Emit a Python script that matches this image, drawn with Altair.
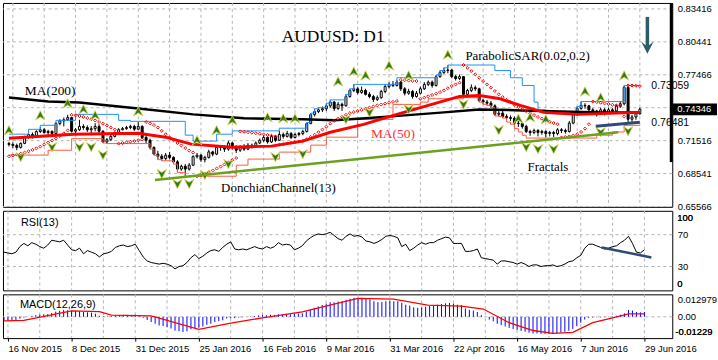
import altair as alt
import pandas as pd

# ---------------- data ----------------
bars = list(range(-1, 161))          # bar index, 0 = 16 Nov 2015, 160 = 29 Jun 2016
first_open = 0.7125

close = [
    0.7118, 0.7108, 0.7090, 0.7127, 0.7180, 0.7207, 0.7190, 0.7234, 0.7250, 0.7225,
    0.7234, 0.7216, 0.7306, 0.7330, 0.7340, 0.7360, 0.7237, 0.7250, 0.7280, 0.7270,
    0.7250, 0.7260, 0.7280, 0.7237, 0.7140, 0.7160, 0.7190, 0.7225, 0.7250, 0.7260,
    0.7270, 0.7280, 0.7255, 0.7280, 0.7180, 0.7155, 0.7090, 0.7030, 0.7010, 0.6990,
    0.7020, 0.7000, 0.6960, 0.6895, 0.6920, 0.6895, 0.6930, 0.7007, 0.7020, 0.6980,
    0.7000, 0.7050, 0.7030, 0.7090, 0.7095, 0.7075, 0.7130, 0.7090, 0.7065, 0.7095,
    0.7075, 0.7110, 0.7100, 0.7130, 0.7155, 0.7180, 0.7140, 0.7190, 0.7155, 0.7207,
    0.7190, 0.7216, 0.7180, 0.7207, 0.7216, 0.7234, 0.7306, 0.7387, 0.7414, 0.7430,
    0.7440, 0.7466, 0.7500, 0.7442, 0.7480, 0.7466, 0.7550, 0.7605, 0.7620, 0.7587,
    0.7605, 0.7570, 0.7550, 0.7524, 0.7540, 0.7596, 0.7640, 0.7660, 0.7650, 0.7680,
    0.7620, 0.7580, 0.7596, 0.7550, 0.7580, 0.7620, 0.7660, 0.7680, 0.7650, 0.7730,
    0.7767, 0.7785, 0.7790, 0.7730, 0.7713, 0.7730, 0.7570, 0.7605, 0.7630, 0.7620,
    0.7515, 0.7500, 0.7490, 0.7466, 0.7390, 0.7400, 0.7370, 0.7360, 0.7353, 0.7310,
    0.7306, 0.7280, 0.7234, 0.7225, 0.7243, 0.7225, 0.7234, 0.7216, 0.7225, 0.7216,
    0.7250, 0.7243, 0.7234, 0.7310, 0.7387, 0.7443, 0.7470, 0.7466, 0.7430, 0.7420,
    0.7400, 0.7430, 0.7405, 0.7430, 0.7420, 0.7466, 0.7485, 0.7632, 0.7345, 0.7365,
    0.7395, 0.7435,
]
high = [
    0.7140, 0.7135, 0.7125, 0.7135, 0.7195, 0.7230, 0.7225, 0.7245, 0.7275, 0.7265,
    0.7250, 0.7245, 0.7320, 0.7345, 0.7360, 0.7385, 0.7365, 0.7265, 0.7340, 0.7300,
    0.7290, 0.7285, 0.7310, 0.7300, 0.7245, 0.7175, 0.7205, 0.7235, 0.7265, 0.7275,
    0.7285, 0.7295, 0.7295, 0.7320, 0.7290, 0.7200, 0.7170, 0.7100, 0.7060, 0.7030,
    0.7040, 0.7050, 0.7010, 0.6975, 0.6935, 0.6940, 0.6950, 0.7020, 0.7040, 0.7030,
    0.7015, 0.7070, 0.7060, 0.7100, 0.7110, 0.7110, 0.7150, 0.7140, 0.7110, 0.7110,
    0.7120, 0.7130, 0.7125, 0.7145, 0.7170, 0.7200, 0.7190, 0.7205, 0.7200, 0.7240,
    0.7225, 0.7240, 0.7230, 0.7225, 0.7230, 0.7250, 0.7315, 0.7400, 0.7440, 0.7450,
    0.7460, 0.7490, 0.7520, 0.7510, 0.7500, 0.7495, 0.7570, 0.7620, 0.7660, 0.7635,
    0.7640, 0.7620, 0.7590, 0.7565, 0.7560, 0.7610, 0.7660, 0.7680, 0.7690, 0.7700,
    0.7690, 0.7635, 0.7620, 0.7610, 0.7600, 0.7640, 0.7680, 0.7695, 0.7695, 0.7745,
    0.7785, 0.7810, 0.7835, 0.7800, 0.7745, 0.7750, 0.7735, 0.7620, 0.7660, 0.7650,
    0.7630, 0.7530, 0.7520, 0.7510, 0.7480, 0.7420, 0.7420, 0.7390, 0.7380, 0.7370,
    0.7330, 0.7320, 0.7295, 0.7250, 0.7260, 0.7255, 0.7250, 0.7245, 0.7240, 0.7240,
    0.7265, 0.7265, 0.7260, 0.7330, 0.7400, 0.7460, 0.7505, 0.7490, 0.7475, 0.7445,
    0.7430, 0.7450, 0.7445, 0.7450, 0.7445, 0.7480, 0.7510, 0.7650, 0.7640, 0.7385,
    0.7420, 0.7450,
]
low = [
    0.7100, 0.7085, 0.7065, 0.7080, 0.7120, 0.7170, 0.7170, 0.7180, 0.7220, 0.7215,
    0.7200, 0.7195, 0.7205, 0.7290, 0.7280, 0.7330, 0.7225, 0.7200, 0.7240, 0.7250,
    0.7230, 0.7200, 0.7235, 0.7220, 0.7130, 0.7125, 0.7150, 0.7180, 0.7215, 0.7245,
    0.7250, 0.7255, 0.7240, 0.7250, 0.7170, 0.7130, 0.7075, 0.7020, 0.6980, 0.6970,
    0.6975, 0.6985, 0.6940, 0.6865, 0.6880, 0.6830, 0.6880, 0.6925, 0.6990, 0.6960,
    0.6955, 0.6990, 0.7010, 0.7020, 0.7060, 0.7050, 0.7060, 0.7070, 0.7040, 0.7050,
    0.7060, 0.7065, 0.7080, 0.7090, 0.7120, 0.7140, 0.7125, 0.7130, 0.7140, 0.7150,
    0.7170, 0.7180, 0.7165, 0.7170, 0.7190, 0.7200, 0.7225, 0.7300, 0.7370, 0.7400,
    0.7410, 0.7420, 0.7450, 0.7420, 0.7430, 0.7420, 0.7460, 0.7540, 0.7590, 0.7570,
    0.7575, 0.7560, 0.7535, 0.7500, 0.7510, 0.7530, 0.7580, 0.7625, 0.7635, 0.7640,
    0.7600, 0.7560, 0.7565, 0.7530, 0.7540, 0.7570, 0.7610, 0.7645, 0.7630, 0.7640,
    0.7720, 0.7755, 0.7760, 0.7715, 0.7695, 0.7700, 0.7560, 0.7555, 0.7590, 0.7600,
    0.7500, 0.7480, 0.7470, 0.7450, 0.7375, 0.7370, 0.7355, 0.7340, 0.7330, 0.7295,
    0.7275, 0.7260, 0.7220, 0.7195, 0.7210, 0.7190, 0.7205, 0.7180, 0.7190, 0.7185,
    0.7200, 0.7220, 0.7215, 0.7225, 0.7300, 0.7375, 0.7430, 0.7440, 0.7410, 0.7395,
    0.7370, 0.7385, 0.7380, 0.7395, 0.7395, 0.7410, 0.7450, 0.7470, 0.7320, 0.7310,
    0.7340, 0.7385,
]
sar = [
    0.7010, 0.7018, 0.7026, 0.7034, 0.7044, 0.7056, 0.7068, 0.7082, 0.7098, 0.7116,
    0.7134, 0.7152, 0.7172, 0.7194, 0.7218, 0.7244, 0.7385, 0.7380, 0.7374, 0.7366,
    0.7356, 0.7346, 0.7334, 0.7320, 0.7305, 0.7288, 0.7270, 0.7252, 0.7125, 0.7130,
    0.7136, 0.7142, 0.7148, 0.7155, 0.7162, 0.7320, 0.7308, 0.7292, 0.7270, 0.7240,
    0.7210, 0.7180, 0.7155, 0.7130, 0.7108, 0.7085, 0.7062, 0.7044, 0.6830, 0.6840,
    0.6852, 0.6866, 0.6882, 0.6900, 0.6918, 0.6936, 0.6955, 0.6975, 0.6995, 0.7235,
    0.7232, 0.7228, 0.7224, 0.7219, 0.7214, 0.7208, 0.7202, 0.7196, 0.7190, 0.7115,
    0.7120, 0.7126, 0.7132, 0.7138, 0.7144, 0.7150, 0.7165, 0.7185, 0.7205, 0.7228,
    0.7252, 0.7278, 0.7305, 0.7330, 0.7350, 0.7368, 0.7385, 0.7400, 0.7410, 0.7420,
    0.7430, 0.7440, 0.7450, 0.7460, 0.7470, 0.7478, 0.7486, 0.7494, 0.7502, 0.7510,
    0.7700, 0.7698, 0.7695, 0.7692, 0.7690, 0.7530, 0.7540, 0.7552, 0.7564, 0.7576,
    0.7590, 0.7606, 0.7625, 0.7645, 0.7660, 0.7675, 0.7835, 0.7810, 0.7780, 0.7750,
    0.7720, 0.7690, 0.7660, 0.7630, 0.7600, 0.7570, 0.7545, 0.7520, 0.7498, 0.7476,
    0.7455, 0.7436, 0.7418, 0.7400, 0.7382, 0.7366, 0.7350, 0.7335, 0.7322, 0.7310,
    0.7300, 0.7180, 0.7185, 0.7190, 0.7198, 0.7210, 0.7230, 0.7260, 0.7300, 0.7505,
    0.7500, 0.7494, 0.7488, 0.7482, 0.7476, 0.7470, 0.7464, 0.7370, 0.7650, 0.7650,
    0.7648, 0.7645,
]
rsi = [
    48, 47, 46, 48, 55, 59, 56, 60, 58, 55,
    53, 57, 63, 62, 61, 63, 57, 51, 50, 53,
    46, 50, 48, 46, 42, 46, 47, 49, 54, 56,
    57, 55, 56, 58, 50, 42, 37, 35, 34, 33,
    34, 33, 31, 27, 30, 31, 35, 41, 45, 40,
    43, 47, 50, 51, 49, 54, 58, 61, 52, 51,
    52, 51, 53, 55, 53, 52, 55, 53, 55, 60,
    57, 58, 57, 51, 53, 56, 62, 66, 69, 71,
    70, 71, 73, 69, 65, 63, 68, 71, 68, 69,
    67, 62, 61, 59, 61, 64, 68, 69, 68, 66,
    55, 58, 50, 53, 57, 60, 58, 60, 60, 63,
    65, 67, 66, 59, 59, 59, 49, 49, 50, 52,
    41, 40, 39, 38, 33, 37, 37, 36, 35, 33,
    35, 33, 30, 32, 32, 30, 31, 31, 32, 30,
    31, 33, 36, 37, 41, 44, 53, 58, 58, 56,
    54, 52, 53, 55, 56, 60, 63, 68, 59, 48,
    47, 51,
]
macd_hist_milli = [
    -2.0, -2.0, -2.2, -1.8, -1.0, -0.5, 0.0, 0.5, 1.0, 1.3,
    1.5, 1.6, 2.2, 3.0, 3.5, 4.0, 3.8, 3.6, 3.5, 3.2,
    2.8, 2.6, 2.4, 1.8, 0.6, 0.3, 0.3, 0.4, 0.6, 0.8,
    1.0, 1.1, 1.0, 1.2, 0.3, -0.6, -1.8, -3.0, -4.0, -5.0,
    -5.4, -6.0, -6.8, -8.0, -8.3, -8.8, -8.4, -7.2, -6.4, -6.3,
    -5.6, -4.6, -4.0, -3.0, -2.4, -2.0, -1.0, -0.8, -0.8, -0.4,
    -0.3, 0.0, 0.2, 0.5, 0.8, 1.0, 0.9, 1.2, 1.0, 1.5,
    1.4, 1.6, 1.4, 1.6, 1.8, 2.0, 3.0, 4.2, 5.2, 6.0,
    6.8, 7.6, 8.4, 8.4, 8.8, 9.0, 9.8, 10.4, 11.0, 11.0,
    11.0, 10.5, 10.0, 9.0, 8.5, 8.6, 9.0, 9.2, 9.0, 9.0,
    8.0, 7.0, 6.5, 5.5, 5.2, 5.4, 5.8, 6.2, 6.4, 7.0,
    7.4, 7.8, 8.0, 7.6, 7.0, 6.8, 4.8, 4.0, 3.6, 2.8,
    1.0, 0.0, -1.6, -2.6, -4.0, -4.8, -5.6, -6.4, -7.0, -7.6,
    -8.2, -8.6, -9.2, -9.6, -9.6, -9.8, -9.8, -9.8, -9.6, -9.4,
    -9.0, -8.6, -8.0, -7.0, -5.4, -3.4, -1.6, -0.6, -0.4, -0.3,
    -0.3, -0.2, -0.2, 0.2, 0.6, 1.2, 2.0, 4.0, 3.6, 2.8,
    2.6, 2.8,
]
sig_i = [-1, 4, 16, 23, 26, 36, 48, 56, 64, 74, 82, 88, 97, 105.5, 114, 119.5,
         126, 132, 137, 142, 147, 152, 156, 160]
sig_milli = [-2.3, -2.0, 3.4, 3.0, 1.0, 0.6, -7.3, -3.6, -0.6, 2.8, 7.3, 10.7, 10.2,
             6.8, 6.2, 4.5, -3.4, -7.9, -9.6, -9.0, -3.4, -0.6, 1.7, 1.7]

ma200_i = [-1, 9, 17, 32, 46, 59, 74, 82, 90, 100, 110, 119, 130, 140, 150, 160]
ma200_v = [0.7542, 0.7506, 0.7497, 0.7443, 0.7389, 0.7353, 0.7344, 0.7335, 0.7353,
           0.7380, 0.7407, 0.7434, 0.7425, 0.7416, 0.7407, 0.7407]
ma50_i = [-1, 15.5, 32, 39, 45.5, 56, 66, 74, 81, 89.5, 98, 106, 114, 119, 124,
          129.5, 135.5, 144, 152, 160]
ma50_v = [0.7174, 0.7210, 0.7218, 0.7183, 0.7120, 0.7093, 0.7102, 0.7147, 0.7227,
          0.7299, 0.7389, 0.7470, 0.7551, 0.7560, 0.7533, 0.7470, 0.7407, 0.7389,
          0.7398, 0.7407]

don_up_i = [-1, 4, 7, 11, 16, 27, 30, 44, 46, 52, 56, 68, 75, 76, 77, 78, 80, 81, 85,
            86, 87, 98, 108, 109, 110, 111, 123, 127, 130, 133, 134, 136, 144, 145,
            156, 160]
don_up_v = [0.7210, 0.7254, 0.7290, 0.7335, 0.7389, 0.7335, 0.7326, 0.7201, 0.7147,
            0.7210, 0.7240, 0.7264, 0.7315, 0.7400, 0.7440, 0.7450, 0.7490, 0.7520,
            0.7570, 0.7620, 0.7660, 0.7720, 0.7745, 0.7785, 0.7810, 0.7835, 0.7785,
            0.7720, 0.7650, 0.7500, 0.7430, 0.7395, 0.7460, 0.7505, 0.7650, 0.7650]
don_lo_i = [-1, 9, 15, 23, 24, 35, 36, 37, 38, 41, 42, 44, 57, 60, 68, 76, 80, 88, 97,
            104, 106, 115, 119, 120, 121, 122, 123, 124, 125, 126, 127, 128, 129, 130,
            131, 149, 153, 156, 160]
don_lo_v = [0.7021, 0.7065, 0.7170, 0.7130, 0.7125, 0.7075, 0.7020, 0.6980, 0.6970,
            0.6940, 0.6865, 0.6830, 0.6930, 0.6985, 0.7048, 0.7111, 0.7183, 0.7344,
            0.7479, 0.7500, 0.7530, 0.7540, 0.7500, 0.7480, 0.7470, 0.7450, 0.7375,
            0.7370, 0.7355, 0.7320, 0.7300, 0.7260, 0.7230, 0.7200, 0.7175, 0.7201,
            0.7230, 0.7290, 0.7290]

frac_up_i = [-1, 7, 14, 18, 21, 32, 47, 52, 56, 65, 69, 72, 83, 87, 90, 96, 101, 111,
             129, 132, 136, 146, 150, 156]
frac_up_v = [0.7246, 0.7380, 0.7488, 0.7434, 0.7380, 0.7416, 0.7156, 0.7245, 0.7335,
             0.7362, 0.7353, 0.7353, 0.7686, 0.7776, 0.7740, 0.7830, 0.7740, 0.7928,
             0.7350, 0.7362, 0.7344, 0.7596, 0.7542, 0.7740]
frac_dn_i = [2, 10, 17, 20, 23, 38, 42, 45, 49, 55, 67, 74, 85, 91, 101, 115, 124, 131,
             134, 138, 150, 157]
frac_dn_v = [0.7003, 0.7093, 0.7093, 0.7093, 0.7021, 0.6850, 0.6760, 0.6760, 0.6841,
             0.6940, 0.7003, 0.7030, 0.7344, 0.7407, 0.7434, 0.7479, 0.7246, 0.7093,
             0.7075, 0.7075, 0.7228, 0.7237]

# analyst trend lines
green_i, green_v = [36.25, 154.5], [0.6796, 0.7227]
navy_i, navy_v = [148.75, 160], [0.7281, 0.7317]
rsi_tl_i, rsi_tl_v = [149.25, 161.75], [54, 41.4]

price_ticks = [0.83416, 0.80441, 0.77466, 0.74491, 0.71516, 0.68541, 0.65566]
rsi_ticks = [30, 70]
macd_ticks = [0.0, 0.012979]
grid_bars = list(range(0, 161, 8))
date_ticks = list(range(0, 161, 16))
date_labels = ["16 Nov 2015", "8 Dec 2015", "31 Dec 2015", "25 Jan 2016", "16 Feb 2016",
               "9 Mar 2016", "31 Mar 2016", "22 Apr 2016", "16 May 2016", "7 Jun 2016",
               "29 Jun 2016"]

# ---------------- chart ----------------
W = 673
FONT = "Liberation Sans"
SERIF = "Liberation Serif"
GRID = dict(color="#b4b4b4", strokeDash=[3, 3], strokeWidth=1)
one = pd.DataFrame({"a": [0]})

opens = [first_open] + close[:-1]
candles = pd.DataFrame({"i": bars, "o": opens, "h": high, "l": low, "c": close})
candles["fill"] = ["white" if c >= o else "black" for o, c in zip(opens, close)]

xs = alt.Scale(domain=[-1.25, 167], nice=False, zero=False)
ps = alt.Scale(domain=[0.65536, 0.83955], nice=False, zero=False)
rs = alt.Scale(domain=[0, 100], nice=False, zero=False)
ms = alt.Scale(domain=[-0.012294, 0.012979], nice=False, zero=False)

AX = dict(orient="right", ticks=False, labelPadding=5, domain=False, grid=False,
          title=None, labelFontSize=9.5, labelFont=FONT, labelColor="black",
          labelOverlap=False)

price_axis = alt.Axis(values=price_ticks,
                      labelExpr="abs(datum.value - 0.74491) < 0.0001 ? '' : format(datum.value, '.5f')",
                      **AX)
rsi_axis = alt.Axis(values=rsi_ticks, format="d", **AX)
macd_axis = alt.Axis(
    values=macd_ticks,
    labelExpr="datum.value > 0.001 ? '0.012979' : '0.00'",
    labelBaseline={"condition": {"test": "datum.value > 0.001", "value": "top"},
                   "value": "middle"},
    **AX)
date_expr = "[" + ",".join("'%s'" % s for s in date_labels) + "][round(datum.value / 16)]"
date_axis = alt.Axis(values=date_ticks, labelExpr=date_expr, orient="bottom", ticks=True,
                     tickSize=3, tickColor="black", labelAlign="left", labelBaseline="top",
                     labelPadding=2, domain=False, grid=False, title=None, labelFlush=False,
                     labelOverlap=False, labelFontSize=9.5, labelFont=FONT,
                     labelColor="black")

X_plain = alt.X("i:Q", scale=xs, axis=None)
X_dates = alt.X("i:Q", scale=xs, axis=date_axis)


def Yf(field, scale, axis):
    return alt.Y(field, scale=scale, axis=axis)


def vgrid(X):
    return alt.Chart(pd.DataFrame({"i": grid_bars})).mark_rule(**GRID).encode(x=X)


def hgrid(vals, scale, axis):
    return alt.Chart(pd.DataFrame({"v": vals})).mark_rule(**GRID).encode(
        y=Yf("v:Q", scale, axis))


def text(txt, x, y, size=13, font=SERIF, color="black", align="left"):
    return alt.Chart(one).mark_text(font=font, fontSize=size, color=color, align=align,
                                    baseline="middle").encode(
        x=alt.value(x), y=alt.value(y), text=alt.value(txt))


def line(xv, yv, X, scale, axis, **kw):
    return alt.Chart(pd.DataFrame({"i": xv, "v": yv})).mark_line(**kw).encode(
        x=X, y=Yf("v:Q", scale, axis))


def points(xv, yv, X, scale, axis, **kw):
    return alt.Chart(pd.DataFrame({"i": xv, "v": yv})).mark_point(**kw).encode(
        x=X, y=Yf("v:Q", scale, axis))


# ---- main panel ----
X, S, A = X_plain, ps, price_axis
wicks = alt.Chart(candles).mark_rule(color="black", strokeWidth=1).encode(
    x=X, y=Yf("l:Q", S, A), y2="h:Q")
bodies = alt.Chart(candles).mark_bar(size=2, stroke="black", strokeWidth=1).encode(
    x=X, y=Yf("o:Q", S, A), y2="c:Q", fill=alt.Fill("fill:N", scale=None))
UP = "M0,-1L1,1L0,0.35L-1,1Z"
DN = "M0,1L1,-1L0,-0.35L-1,-1Z"
FR = dict(filled=True, fill="#2f7a1f", stroke="#e0d84a", strokeWidth=0.8, size=90, opacity=1)

price_box = alt.Chart(one).mark_rect(color="black").encode(
    x=alt.value(673), x2=alt.value(718), y=alt.value(101), y2=alt.value(113))
thick = alt.Chart(one).mark_rule(color="black", strokeWidth=3).encode(
    x=alt.value(672), y=alt.value(0), y2=alt.value(160))
arrow_shaft = alt.Chart(one).mark_rule(color="#2d5b6b", strokeWidth=3.5).encode(
    x=alt.value(648), y=alt.value(14), y2=alt.value(44))
arrow_head = alt.Chart(one).mark_point(
    shape="M-1,-1L0,-0.2L1,-1L0,1Z", filled=True, color="#2d5b6b", size=150, opacity=1).encode(
    x=alt.value(648), y=alt.value(45))

main = alt.layer(
    vgrid(X),
    hgrid(price_ticks, S, A),
    wicks, bodies,
    line(don_up_i, don_up_v, X, S, A, interpolate="step-after", color="#1e8fff", strokeWidth=1),
    line(don_lo_i, don_lo_v, X, S, A, interpolate="step-after", color="#ff5a40", strokeWidth=1),
    line(ma200_i, ma200_v, X, S, A, color="black", strokeWidth=2.5),
    line(ma50_i, ma50_v, X, S, A, color="#ff0000", strokeWidth=3),
    points(bars, sar, X, S, A, shape="diamond", filled=False, size=9, color="#ff0000",
           strokeWidth=1, opacity=1),
    points(frac_up_i, frac_up_v, X, S, A, shape=UP, **FR),
    points(frac_dn_i, frac_dn_v, X, S, A, shape=DN, **FR),
    line(green_i, green_v, X, S, A, color="#6aa121", strokeWidth=2.5),
    line(navy_i, navy_v, X, S, A, color="#2f4a78", strokeWidth=3),
    text("AUDUSD: D1", 332, 34, size=17.5, align="center"),
    text("MA(200)", 22, 89, size=13.5),
    text("MA(50)", 370, 132, size=13.5, color="#ff3030"),
    text("DonchianChannel(13)", 277, 186, size=13, align="center"),
    text("ParabolicSAR(0.02,0.2)", 465, 53, size=13),
    text("Fractals", 548, 165, size=13, align="center"),
    text("0.73059", 652, 84, size=10.5, font=FONT),
    text("0.76481", 652, 121, size=10.5, font=FONT),
    price_box,
    text("0.74346", 678, 107, size=9.5, font=FONT, color="white"),
    # end labels of the lower panels' scales (same spots as below)
    text("100", 678, 216, size=9.5, font=FONT),
    text("0", 678, 283, size=9.5, font=FONT),
    text("-0.01229", 676, 331, size=9.5, font=FONT),
    thick, arrow_shaft, arrow_head,
).properties(width=W, height=205)

# ---- RSI panel ----
rsi_panel = alt.layer(
    vgrid(X_plain),
    hgrid(rsi_ticks, rs, rsi_axis),
    line(bars, rsi, X_plain, rs, rsi_axis, color="black", strokeWidth=1),
    line(rsi_tl_i, rsi_tl_v, X_plain, rs, rsi_axis, color="#2f4a78", strokeWidth=2.5),
    text("RSI(13)", 18, 12, size=11, font=FONT),
).properties(width=W, height=80)

# ---- MACD panel ----
hist_df = pd.DataFrame({"i": bars, "z": [0.0] * len(bars),
                        "h": [v / 1000 for v in macd_hist_milli]})
hist = alt.Chart(hist_df).mark_rule(color="#0000ff", strokeWidth=1).encode(
    x=X_dates, y=Yf("z:Q", ms, macd_axis), y2="h:Q")
macd_panel = alt.layer(
    vgrid(X_dates),
    hgrid([0.0], ms, macd_axis),
    hist,
    line(sig_i, [v / 1000 for v in sig_milli], X_dates, ms, macd_axis,
         color="#ff0000", strokeWidth=1.3),
    text("MACD(12,26,9)", 17, 11, size=11, font=FONT),
    text("100", 678, -77, size=9.5, font=FONT),
    text("0", 678, -10, size=9.5, font=FONT),
    text("-0.01229", 676, 38, size=9.5, font=FONT),
).properties(width=W, height=44)

chart = alt.vconcat(main, rsi_panel, macd_panel, spacing=4, bounds="flush",
                    padding=0, background="white").configure_view(
    stroke="black", strokeWidth=1)

chart.save("out.html", embed_options={"renderer": "svg", "actions": False})
